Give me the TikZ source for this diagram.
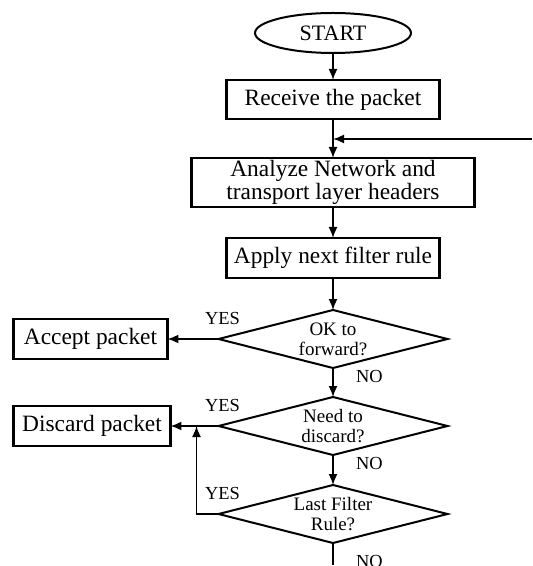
\documentclass[tikz,border=0pt]{standalone}
\usepackage{fontspec}
\setmainfont{Liberation Serif}
\usetikzlibrary{positioning,shapes.geometric,arrows.meta}

\begin{document}
\begin{tikzpicture}[
          every node/.style={outer sep=0pt},
          term/.style={ellipse, draw, line width=1pt, minimum width=78pt,
              minimum height=20pt, inner sep=0pt, font=\fontsize{11}{13}\selectfont},
          proc/.style={rectangle, draw, line width=1.1pt, minimum width=106.5pt,
              minimum height=20pt, inner sep=1pt, align=center,
              font=\fontsize{11.7}{10.5}\selectfont},
          dec/.style={diamond, draw, line width=1pt, aspect=3.95,
              minimum width=114.5pt, minimum height=29pt, inner xsep=0pt,
              inner ysep=-6pt, align=center, font=\fontsize{9.5}{10}\selectfont},
          lbl/.style={inner sep=0pt, font=\fontsize{9.2}{11}\selectfont},
          arr/.style={-{Latex[length=5.5pt,width=4.5pt]}, line width=0.8pt}
        ]
        \useasboundingbox (-166.5pt,16.5pt) rectangle (99.5pt,-266.5pt);
        \node[term] (start) {START};
        \node[proc, minimum height=19.5pt, below=13.5pt of start] (recv) {Receive the packet};
        \node[proc, minimum width=141.5pt, minimum height=24.5pt, below=19.5pt of recv] (anl)
            {Analyze Network and\\transport layer headers};
        \node[proc, below=15.5pt of anl] (rule) {Apply next filter rule};
        \node[dec, below=16pt of rule]   (fwd)  {OK to\\forward?};
        \node[dec, below=14.5pt of fwd]  (disc) {Need to\\discard?};
        \node[dec, below=15pt of disc]   (last) {Last Filter\\Rule?};
        \node[proc, minimum width=77pt, left=25.5pt of fwd]  (acc)  {Accept packet};
        \node[proc, minimum width=78.5pt, left=24pt of disc] (drop) {Discard packet};
        % yes / no labels
        \node[lbl, above=7pt of fwd.west, xshift=2pt]  (yes1) {YES};
        \node[lbl, above=7pt of disc.west, xshift=2pt] (yes2) {YES};
        \node[lbl, above=7pt of last.west, xshift=2pt] (yes3) {YES};
        \node[lbl, below right=1.3pt and 11.5pt of fwd.south]  (no1) {NO};
        \node[lbl, below right=1.3pt and 11.5pt of disc.south] (no2) {NO};
        \node[lbl, below right=6pt and 11.5pt of last.south]   (no3) {NO};
        \coordinate[below=10pt of recv] (mid);
        \coordinate[right=99.5pt of mid] (back);
        \coordinate[left=11pt of disc.west] (join);
        \coordinate[below=11pt of last] (out);
        \draw[arr] (start) -- (recv);
        \draw[arr] (recv)  -- (anl);
        \draw[arr] (back)  -- (mid);
        \draw[arr] (anl)   -- (rule);
        \draw[arr] (rule)  -- (fwd);
        \draw[arr] (fwd)   -- (disc);
        \draw[arr] (disc)  -- (last);
        \draw[arr] (fwd.west)  -- (acc);
        \draw[arr] (disc.west) -- (drop);
        \draw[arr] (last.west) -| (join);
        \draw[line width=0.8pt] (last) -- (out);
      \end{tikzpicture}
\end{document}
